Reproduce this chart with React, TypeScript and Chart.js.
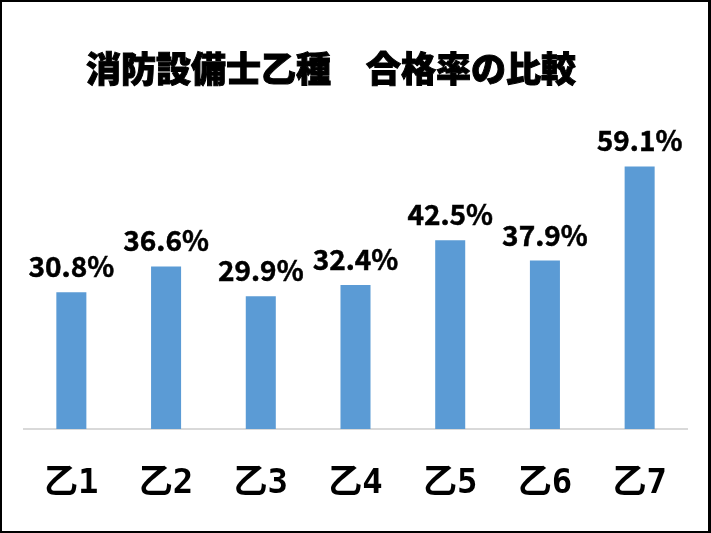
import React, { useEffect, useRef } from "react";
import { Chart, registerables } from "chart.js";

Chart.register(...registerables);

const TITLE = "消防設備士乙種　合格率の比較";
const categories = ["乙1", "乙2", "乙3", "乙4", "乙5", "乙6", "乙7"];
const passRates = [30.8, 36.6, 29.9, 32.4, 42.5, 37.9, 59.1];

const BAR_COLOR = "#5B9BD5";
const JP_FONT = '"Noto Sans CJK JP", "Noto Sans", sans-serif';

const overlayPlugin = {
  id: "overlay",
  afterDatasetsDraw(chart: any) {
    const ctx = chart.ctx;
    const meta = chart.getDatasetMeta(0);
    ctx.save();
    ctx.fillStyle = "#000000";
    ctx.strokeStyle = "#000000";
    ctx.font = `bold 28px ${JP_FONT}`;
    ctx.textAlign = "center";
    ctx.textBaseline = "alphabetic";
    ctx.lineWidth = 0.5;
    meta.data.forEach((el: any, i: number) => {
      const txt = `${passRates[i].toFixed(1)}%`;
      ctx.fillText(txt, el.x, el.y - 15);
      ctx.strokeText(txt, el.x, el.y - 15);
    });
    ctx.font = `900 35px ${JP_FONT}`;
    ctx.textAlign = "left";
    ctx.textBaseline = "middle";
    ctx.lineWidth = 1;
    ctx.fillText(TITLE, 84, 67);
    ctx.strokeText(TITLE, 84, 67);
    ctx.restore();
  },
};

export default function App() {
  const ref = useRef<HTMLCanvasElement | null>(null);
  useEffect(() => {
    document.body.style.margin = "0";
    const chart = new Chart(ref.current as HTMLCanvasElement, {
      type: "bar",
      data: {
        labels: categories,
        datasets: [
          {
            data: passRates,
            backgroundColor: BAR_COLOR,
            borderWidth: 0,
            categoryPercentage: 1,
            barPercentage: 0.317,
          },
        ],
      },
      options: {
        animation: false,
        responsive: false,
        maintainAspectRatio: false,
        layout: { padding: { top: 116, left: 22, right: 21, bottom: 0 } },
        plugins: {
          legend: { display: false },
          title: { display: false },
          tooltip: { enabled: false },
        },
        scales: {
          x: {
            grid: { display: false, drawTicks: false },
            border: { display: true, color: "#D9D9D9", width: 2 },
            afterFit: (scale: any) => {
              scale.height = 102;
            },
            ticks: {
              color: "#000000",
              padding: 35,
              font: { family: '"DejaVu Sans Mono", "Noto Sans CJK JP", monospace', size: 34, weight: "bold" },
            },
          },
          y: {
            display: false,
            min: 0,
            max: 70,
          },
        },
      },
      plugins: [overlayPlugin],
    });
    return () => chart.destroy();
  }, []);
  return (
    <div
      style={{
        position: "fixed",
        left: 0,
        top: 0,
        width: 711,
        height: 533,
        boxSizing: "border-box",
        borderLeft: "2px solid #000",
        borderTop: "2px solid #000",
        borderRight: "3px solid #000",
        borderBottom: "2px solid #000",
        background: "#fff",
      }}
    >
      <canvas ref={ref} width={706} height={529} style={{ display: "block" }} />
    </div>
  );
}
